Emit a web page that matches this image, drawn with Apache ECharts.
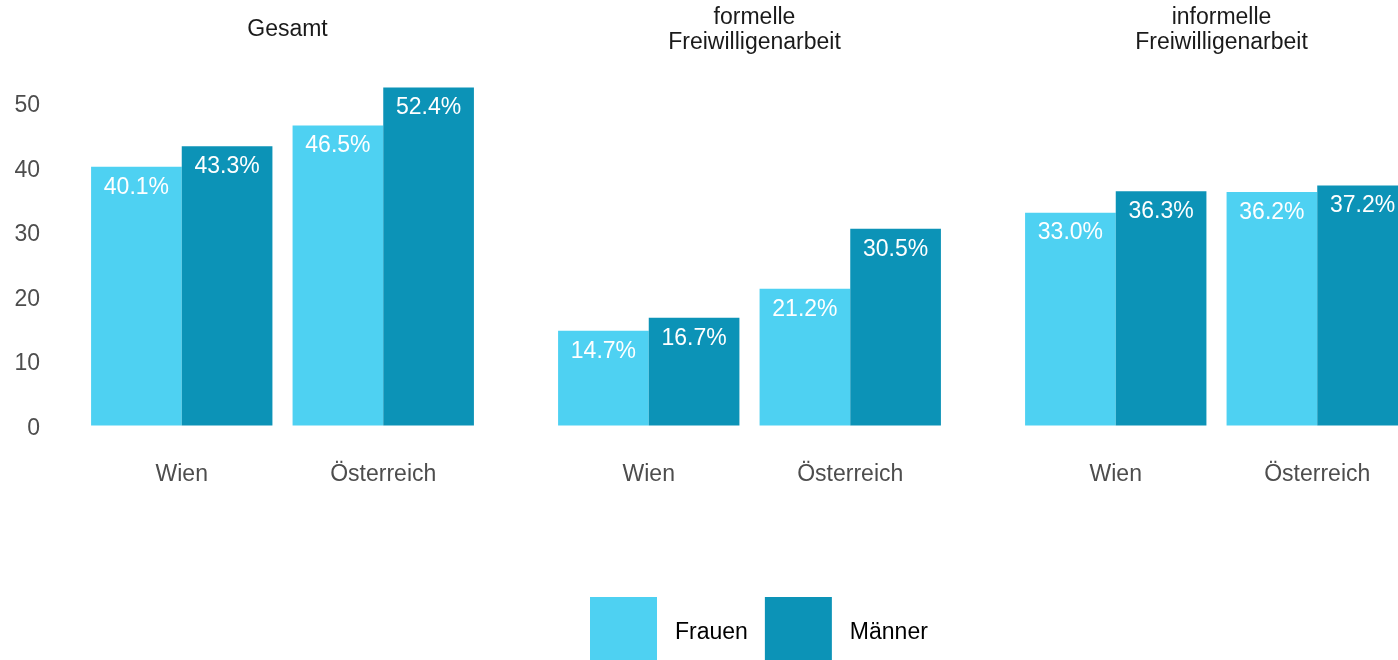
<!DOCTYPE html>
<html>
<head>
<meta charset="utf-8">
<script src="https://cdn.jsdelivr.net/npm/echarts@6/dist/echarts.min.js"></script>
<style>html,body{margin:0;padding:0;background:#fff;}#c{width:1398px;height:660px;}</style>
</head>
<body>
<div id="c"></div>
<script>
const categories = ['Wien', 'Österreich'];
const panelTitles = ['Gesamt', 'formelle\nFreiwilligenarbeit', 'informelle\nFreiwilligenarbeit'];
const seriesNames = ['Frauen', 'Männer'];
const frauenGesamt = [40.1, 46.5];
const maennerGesamt = [43.3, 52.4];
const frauenFormell = [14.7, 21.2];
const maennerFormell = [16.7, 30.5];
const frauenInformell = [33.0, 36.2];
const maennerInformell = [36.3, 37.2];
const yTickInterval = 10;

const FONT = "'Liberation Sans', Arial, sans-serif";
const colors = ['#4ED1F2', '#0C93B7'];
const panelData = [
  [frauenGesamt, maennerGesamt],
  [frauenFormell, maennerFormell],
  [frauenInformell, maennerInformell]
];
const lefts = [81, 548, 1015];
const W = 403;
const titleTops = [12, 0.5, 0.5];

const grids = [], xAxes = [], yAxes = [], series = [], titles = [];
lefts.forEach((l, i) => {
  grids.push({left: l, width: W, top: 70.75, bottom: 234.5, outerBoundsMode: 'none', containLabel: false});
  xAxes.push({
    type: 'category', gridIndex: i, data: categories,
    axisLine: {show: false}, axisTick: {show: false},
    axisLabel: {fontSize: 23, color: '#4d4d4d', fontFamily: FONT, margin: 38}
  });
  yAxes.push({
    type: 'value', gridIndex: i, min: 0, max: 55, interval: yTickInterval,
    axisLine: {show: false}, axisTick: {show: false}, splitLine: {show: false},
    axisLabel: {
      show: i === 0, showMaxLabel: false, margin: 41,
      formatter: v => '{v|' + v + '}',
      rich: {v: {fontSize: 23, color: '#4d4d4d', fontFamily: FONT, padding: [6, 0, 0, 0]}}
    }
  });
  titles.push({
    text: panelTitles[i], left: l + W / 2, top: titleTops[i], textAlign: 'center',
    textStyle: {fontSize: 23, fontWeight: 'normal', color: '#1a1a1a', fontFamily: FONT, lineHeight: 25}
  });
  panelData[i].forEach((d, k) => {
    series.push({
      type: 'bar', name: seriesNames[k], xAxisIndex: i, yAxisIndex: i, data: d,
      barGap: '0%', barCategoryGap: '10%',
      itemStyle: {color: colors[k]},
      label: {
        show: true, position: 'insideTop', distance: 9, color: '#fff',
        fontSize: 23, fontFamily: FONT,
        formatter: p => p.value.toFixed(1) + '%'
      },
      emphasis: {disabled: true}
    });
  });
});

const chart = echarts.init(document.getElementById('c'), null, {renderer: 'canvas'});
chart.setOption({
  animation: false,
  backgroundColor: '#fff',
  title: titles,
  grid: grids,
  xAxis: xAxes,
  yAxis: yAxes,
  legend: {
    data: seriesNames, left: 590, top: 597, padding: 0, itemGap: 17,
    itemWidth: 67, itemHeight: 72, icon: 'rect',
    textStyle: {fontSize: 23, color: '#000', fontFamily: FONT, padding: [0, 0, 0, 13]}
  },
  series: series
});
</script>
</body>
</html>
